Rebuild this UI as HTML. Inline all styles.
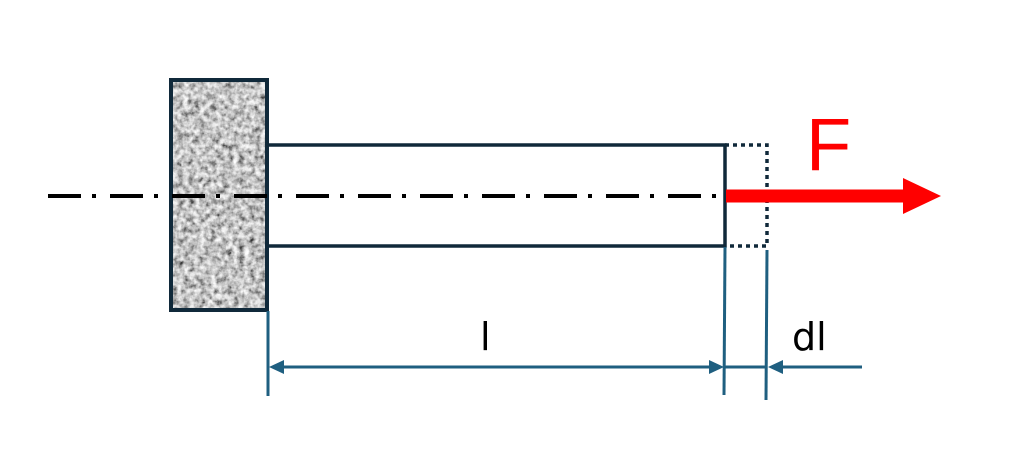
<!DOCTYPE html>
<html><head><meta charset="utf-8"><style>html,body{margin:0;padding:0;background:#fff;}svg{display:block}</style></head>
<body>
<svg width="1024" height="460" viewBox="0 0 1024 460" xmlns="http://www.w3.org/2000/svg">
<defs>
<filter id="n" x="0" y="0" width="100%" height="100%">
<feTurbulence type="fractalNoise" baseFrequency="0.18" numOctaves="3" seed="5" result="t"/>
<feComponentTransfer in="t" result="g"><feFuncR type="linear" slope="2.0" intercept="-0.45"/><feFuncG type="linear" slope="2.0" intercept="-0.45"/><feFuncB type="linear" slope="2.0" intercept="-0.45"/><feFuncA type="linear" slope="0" intercept="1"/></feComponentTransfer>
<feColorMatrix in="g" type="saturate" values="0"/>
</filter>
</defs>
<rect x="171" y="80" width="96" height="230" fill="#999" filter="url(#n)"/>
<rect x="171" y="80" width="96" height="230" fill="none" stroke="#10293a" stroke-width="4"/>
<path d="M269 145 H725 V246 H269" fill="none" stroke="#10293a" stroke-width="3.5"/>
<path d="M725 145 H767 V246 H725" fill="none" stroke="#10293a" stroke-width="3.5" stroke-dasharray="4 4"/>
<line x1="48" y1="196" x2="725" y2="196" stroke="#000" stroke-width="4" stroke-dasharray="33 11 4 14"/>
<line x1="726" y1="196" x2="906" y2="196" stroke="#ff0000" stroke-width="13"/>
<polygon points="903,178 941,196 903,214" fill="#ff0000"/>
<text x="806" y="170" font-family="Liberation Sans, sans-serif" font-size="74" fill="#ff0000">F</text>
<g stroke="#1f5f80" stroke-width="3" fill="none">
<line x1="268" y1="311" x2="268" y2="396"/>
<line x1="725" y1="247" x2="724" y2="395"/>
<line x1="767" y1="250" x2="766" y2="400"/>
<line x1="280" y1="367" x2="713" y2="367"/>
<line x1="725" y1="367" x2="767" y2="367"/>
<line x1="779" y1="367" x2="862" y2="367"/>
</g>
<g fill="#1f5f80">
<polygon points="269,367 284,360 284,374"/>
<polygon points="724,367 709,360 709,374"/>
<polygon points="768,367 783,360 783,374"/>
</g>
<text x="480" y="350" font-family="DejaVu Sans, sans-serif" font-size="38" fill="#000">l</text>
<text x="792" y="350" font-family="DejaVu Sans, sans-serif" font-size="38" fill="#000">dl</text>
</svg>
</body></html>
